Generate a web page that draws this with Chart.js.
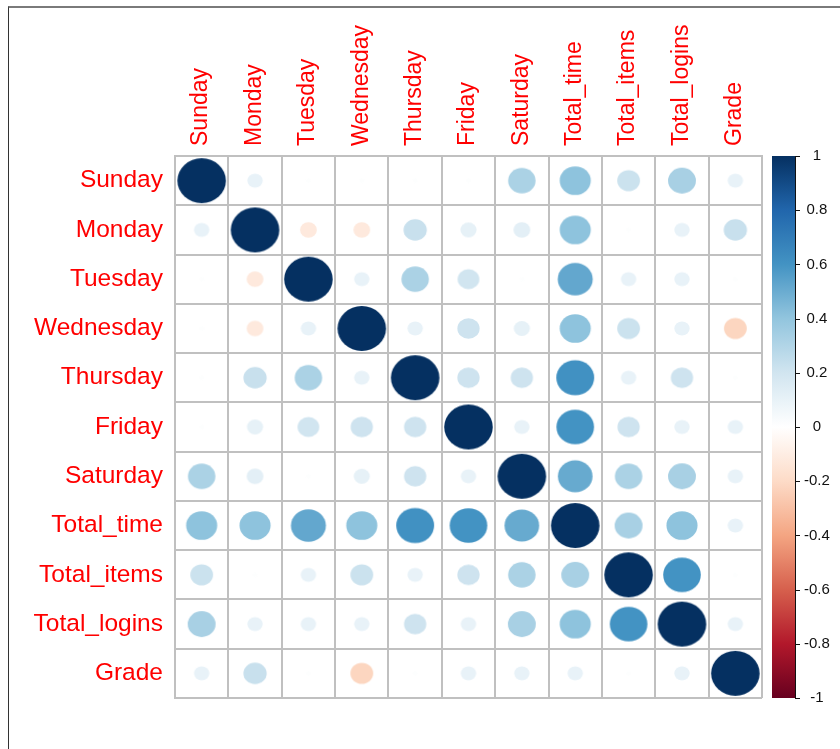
<!DOCTYPE html>
<html>
<head>
<meta charset="utf-8">
<script src="https://cdn.jsdelivr.net/npm/chart.js@4.4.1/dist/chart.umd.min.js"></script>
<style>
  html, body { margin: 0; padding: 0; background: #fff; }
  #wrap { position: relative; width: 840px; height: 749px; }
  #frame {
    position: absolute; left: 8px; top: 6px; right: 0; bottom: 0;
    border-top: 2px solid #7a7a7a; border-left: 1px solid #333;
    pointer-events: none;
  }
</style>
</head>
<body>
<div id="wrap">
  <canvas id="corrChart"></canvas>
  <div id="frame"></div>
</div>
<script>
// ===== DATA =====
const vars = ['Sunday', 'Monday', 'Tuesday', 'Wednesday', 'Thursday', 'Friday',
              'Saturday', 'Total_time', 'Total_items', 'Total_logins', 'Grade'];

// correlation rows, same column order as vars
const sunday      = [1, 0.1, 0.01, 0.01, 0.01, 0.01, 0.32, 0.41, 0.22, 0.33, 0.1];
const monday      = [0.1, 1, -0.12, -0.12, 0.23, 0.11, 0.12, 0.41, 0.01, 0.1, 0.23];
const tuesday     = [0.01, -0.12, 1, 0.1, 0.32, 0.2, 0.01, 0.52, 0.1, 0.1, 0.01];
const wednesday   = [0.01, -0.12, 0.1, 1, 0.1, 0.21, 0.11, 0.41, 0.22, 0.1, -0.22];
const thursday    = [0.01, 0.23, 0.32, 0.1, 1, 0.21, 0.21, 0.61, 0.1, 0.21, 0.01];
const friday      = [0.01, 0.11, 0.2, 0.21, 0.21, 1, 0.1, 0.6, 0.21, 0.1, 0.1];
const saturday    = [0.32, 0.12, 0.01, 0.11, 0.21, 0.1, 1, 0.51, 0.32, 0.33, 0.1];
const totalTime   = [0.41, 0.41, 0.52, 0.41, 0.61, 0.6, 0.51, 1, 0.33, 0.41, 0.1];
const totalItems  = [0.22, 0.01, 0.1, 0.22, 0.1, 0.21, 0.32, 0.33, 1, 0.6, 0.01];
const totalLogins = [0.33, 0.1, 0.1, 0.1, 0.21, 0.1, 0.33, 0.41, 0.6, 1, 0.1];
const grade       = [0.1, 0.23, 0.01, -0.22, 0.01, 0.1, 0.1, 0.1, 0.01, 0.1, 1];

const corrRows = [sunday, monday, tuesday, wednesday, thursday, friday,
                  saturday, totalTime, totalItems, totalLogins, grade];

// colour legend ticks
const legendTicks = [-1, -0.8, -0.6, -0.4, -0.2, 0, 0.2, 0.4, 0.6, 0.8, 1];

// RdBu palette, -1 .. 1
const rdbu = ['#67001F', '#B2182B', '#D6604D', '#F4A582', '#FDDBC7', '#FFFFFF',
              '#D1E5F0', '#92C5DE', '#4393C3', '#2166AC', '#053061'];

// ===== HELPERS =====
function hexToRgb(h) {
    const n = parseInt(h.slice(1), 16);
    return [(n >> 16) & 255, (n >> 8) & 255, n & 255];
}

function corrColor(v) {
    const t = (v + 1) / 2 * (rdbu.length - 1);
    const i = Math.max(0, Math.min(Math.floor(t), rdbu.length - 2));
    const f = t - i;
    const a = hexToRgb(rdbu[i]), b = hexToRgb(rdbu[i + 1]);
    const c = a.map((ch, k) => Math.round(ch + (b[k] - ch) * f));
    return `rgb(${c[0]}, ${c[1]}, ${c[2]})`;
}

// cells are a bit wider than tall, so the marks are drawn as ellipses
function cellRadii(chart, v) {
    const k = 0.455 * Math.sqrt(Math.abs(v));
    return {
        rx: chart.scales.x.width / vars.length * k,
        ry: chart.scales.y.height / vars.length * k
    };
}

function ellipseStyle(ctx) {
    if (!ctx.raw) return 'circle';
    const { rx, ry } = cellRadii(ctx.chart, ctx.raw.v);
    if (!isFinite(rx) || !isFinite(ry) || rx < 0.5) return 'circle';
    const c = document.createElement('canvas');
    c.width = Math.ceil(rx * 2) + 2;
    c.height = Math.ceil(ry * 2) + 2;
    const g = c.getContext('2d');
    g.fillStyle = corrColor(ctx.raw.v);
    g.beginPath();
    g.ellipse(c.width / 2, c.height / 2, rx, ry, 0, 0, Math.PI * 2);
    g.fill();
    return c;
}

// ===== COLOUR BAR =====
const colorBar = {
    id: 'colorBar',
    afterDraw(chart) {
        const s = chart.scales.cb;
        const c = chart.ctx;
        const top = s.getPixelForValue(1);
        const bottom = s.getPixelForValue(-1);
        const x0 = s.left + 10, x1 = s.left + 33;

        const grad = c.createLinearGradient(0, bottom, 0, top);
        rdbu.forEach((col, i) => grad.addColorStop(i / (rdbu.length - 1), col));

        c.save();
        c.fillStyle = grad;
        c.fillRect(x0, top, x1 - x0, bottom - top);
        c.strokeStyle = '#111';
        c.lineWidth = 1;
        c.beginPath();
        c.moveTo(x1 + 0.5, top);
        c.lineTo(x1 + 0.5, bottom);
        s.ticks.forEach(t => {
            const py = Math.round(s.getPixelForValue(t.value)) + 0.5;
            c.moveTo(x1, py);
            c.lineTo(x1 + 5, py);
        });
        c.stroke();
        c.restore();
    }
};

// ===== CHART =====
const points = [];
corrRows.forEach((row, i) => {
    row.forEach((v, j) => points.push({ x: vars[j], y: vars[i], v: v }));
});

const gridStyle = { color: '#c0c0c0', lineWidth: 2, offset: true, drawTicks: false };

new Chart(document.getElementById('corrChart').getContext('2d'), {
    type: 'bubble',
    data: {
        datasets: [{
            data: points,
            radius: ctx => ctx.raw ? Math.max(cellRadii(ctx.chart, ctx.raw.v).rx, 0.2) : 1,
            pointStyle: ellipseStyle,
            backgroundColor: ctx => ctx.raw ? corrColor(ctx.raw.v) : '#fff',
            borderWidth: 0
        }]
    },
    options: {
        responsive: true,
        maintainAspectRatio: false,
        animation: false,
        layout: { padding: { left: 0, right: 0, top: 0, bottom: 35 } },
        plugins: {
            legend: { display: false },
            tooltip: { enabled: false }
        },
        scales: {
            x: {
                type: 'category',
                labels: vars,
                position: 'top',
                offset: true,
                grid: gridStyle,
                border: { color: '#c0c0c0', width: 2 },
                ticks: {
                    color: 'red',
                    font: { family: 'Liberation Sans, Arial, sans-serif', size: 23 },
                    minRotation: 90,
                    maxRotation: 90,
                    autoSkip: false,
                    labelOffset: 27,
                    padding: 10
                },
                afterFit: scale => { scale.height = 156; }
            },
            y: {
                type: 'category',
                labels: vars,
                offset: true,
                grid: gridStyle,
                border: { color: '#c0c0c0', width: 2 },
                ticks: {
                    color: 'red',
                    font: { family: 'Liberation Sans, Arial, sans-serif', size: 24.5 },
                    autoSkip: false,
                    padding: 12
                },
                afterFit: scale => { scale.width = 175; }
            },
            cb: {
                type: 'linear',
                position: 'right',
                min: -1,
                max: 1,
                grid: { display: false, drawTicks: false, drawOnChartArea: false },
                border: { display: false },
                afterBuildTicks: scale => {
                    scale.ticks = legendTicks.map(v => ({ value: v }));
                },
                ticks: {
                    color: '#111',
                    font: { family: 'Liberation Sans, Arial, sans-serif', size: 15 },
                    crossAlign: 'center',
                    padding: 42,
                    callback: v => String(Math.round(v * 10) / 10)
                },
                afterFit: scale => { scale.width = 78; }
            }
        }
    },
    plugins: [colorBar]
});
</script>
</body>
</html>
